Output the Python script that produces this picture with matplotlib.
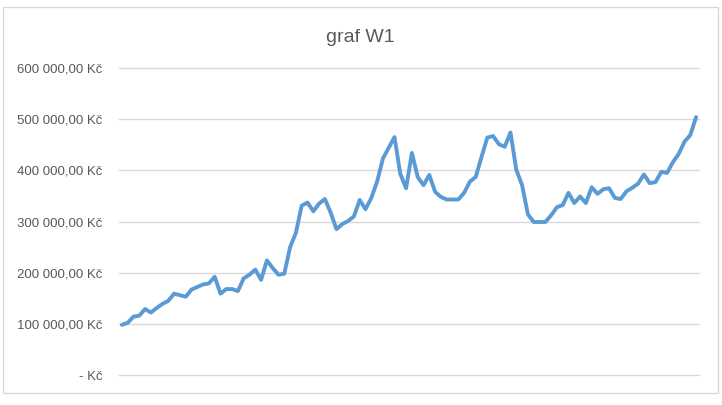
import numpy as np
import matplotlib
matplotlib.use("Agg")
import matplotlib.pyplot as plt
from matplotlib.patches import Rectangle

# hodnoty (v Kc)
hodnoty = [
    98, 102, 114, 116, 129, 122, 131, 139, 145, 159, 156, 153, 167, 172, 177,
    179, 192, 159, 168, 168, 164, 189, 196, 206, 186, 224, 209, 196, 198, 250,
    278, 331, 337, 320, 335, 344, 317, 285, 295, 301, 310, 342, 324, 346, 378,
    423, 444, 465, 393, 365, 434, 387, 371, 391, 358, 348, 343, 343, 343, 356,
    378, 387, 426, 464, 467, 451, 446, 474, 401, 371, 314, 299, 299, 299, 312,
    328, 332, 356, 336, 349, 336, 367, 354, 363, 365, 346, 344, 359, 366, 374,
    392, 375, 377, 397, 395, 416, 432, 456, 469, 504,
]
hodnoty = [h * 1000 for h in hodnoty]
y_ticks = [0, 100000, 200000, 300000, 400000, 500000, 600000]
y_labels = ["- Kč", "100 000,00 Kč", "200 000,00 Kč", "300 000,00 Kč",
            "400 000,00 Kč", "500 000,00 Kč", "600 000,00 Kč"]
titulek = "graf W1"

plt.rcParams['font.family'] = ['Liberation Sans', 'DejaVu Sans']
seda = '#595959'

fig = plt.figure(figsize=(7.22, 4.05), dpi=100)
# ramecek grafu
fig.patches.append(Rectangle((3.5 / 722, 12 / 405), 714.5 / 722, 386 / 405,
                             transform=fig.transFigure, fill=False,
                             edgecolor='#d9d9d9', linewidth=1))

ax = fig.add_axes([119 / 722, 30 / 405, 580 / 722, 307 / 405])
x = np.arange(len(hodnoty))
ax.plot(x, hodnoty, color='#5b9bd5', linewidth=2.8, solid_joinstyle='round',
        solid_capstyle='round', zorder=3)
ax.set_xlim(-0.5, len(hodnoty) - 0.5)
ax.set_ylim(0, 600000)
ax.set_yticks(y_ticks)
ax.set_yticklabels(y_labels)
ax.set_xticks([])
for gl in ax.get_ygridlines():
    gl.set_clip_on(False)
ax.grid(axis='y', color='#d9d9d9', linewidth=1)
for gl in ax.get_ygridlines():
    gl.set_clip_on(False)
ax.set_axisbelow(True)
for s in ax.spines.values():
    s.set_visible(False)
ax.tick_params(axis='y', length=0, pad=12, labelsize=9.5, labelcolor=seda)

fig.text(360 / 722, 1 - 37 / 405, titulek, ha='center', va='center',
         fontsize=14, color=seda)

fig.savefig('out.png', dpi=100)
